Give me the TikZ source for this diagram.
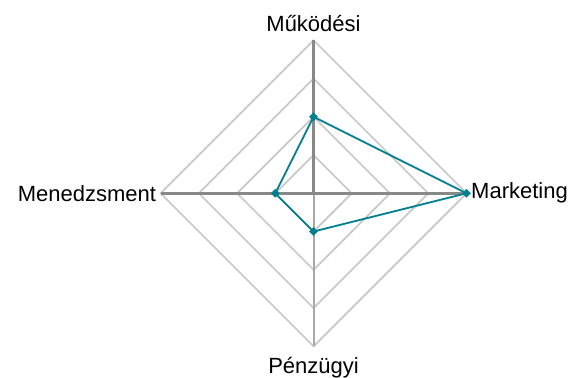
\documentclass[tikz,border=0pt]{standalone}
\usepackage{fontspec}
\setmainfont{Liberation Sans}
\usepackage{xcolor}
\usetikzlibrary{positioning,shapes.geometric}
\definecolor{ringgray}{HTML}{C8C8C8}
\definecolor{axisgray}{HTML}{888888}
\definecolor{axislight}{HTML}{A8A8A8}
\definecolor{teal}{HTML}{00808F}
\begin{document}
\begin{tikzpicture}[x=1pt,y=1pt,
    ring/.style={color=ringgray,line width=1.7pt},
    axis/.style={color=axisgray,line width=2.6pt},
    lbl/.style={inner sep=0pt,font=\fontsize{22}{26}\selectfont},
    dot/.style={diamond,fill=teal,inner sep=0pt,minimum size=9pt}]
    \useasboundingbox(0,0) rectangle (572,377);
    \begin{scope}[shift={(313.5,183.7)}]
        \foreach \r in{38.25,76.5,114.75,153}{
        \draw[ring](\r,0)--(0,\r)--(-\r,0)--(0,-\r)--cycle;
        }
        \coordinate(n)at(0,153);
        \coordinate(e)at(153,0);
        \coordinate(s)at(0,-153);
        \coordinate(w)at(-153,0);
        \draw[color=axislight,line width=2pt](0,0)--(s);
        \draw[axis](w)--(e) (0,0)--(n);
        \node[lbl,above=8.3pt of n](mukodesi){Működési};
        \node[lbl,right=4.5pt of e](marketing){Marketing};
        \node[lbl,below=10.5pt of s](penzugyi){Pénzügyi};
        \node[lbl,left=4.3pt of w](menedzsment){Menedzsment};
        \node[dot](pn)at(0,76.5){};
        \node[dot](pe)at(153,0){};
        \node[dot](ps)at(0,-38.25){};
        \node[dot](pw)at(-38.25,0){};
        \draw[color=teal,line width=1.8pt](pn.center)--(pe.center)--(ps.center)--(pw.center)--cycle;
    \end{scope}
\end{tikzpicture}
\end{document}
